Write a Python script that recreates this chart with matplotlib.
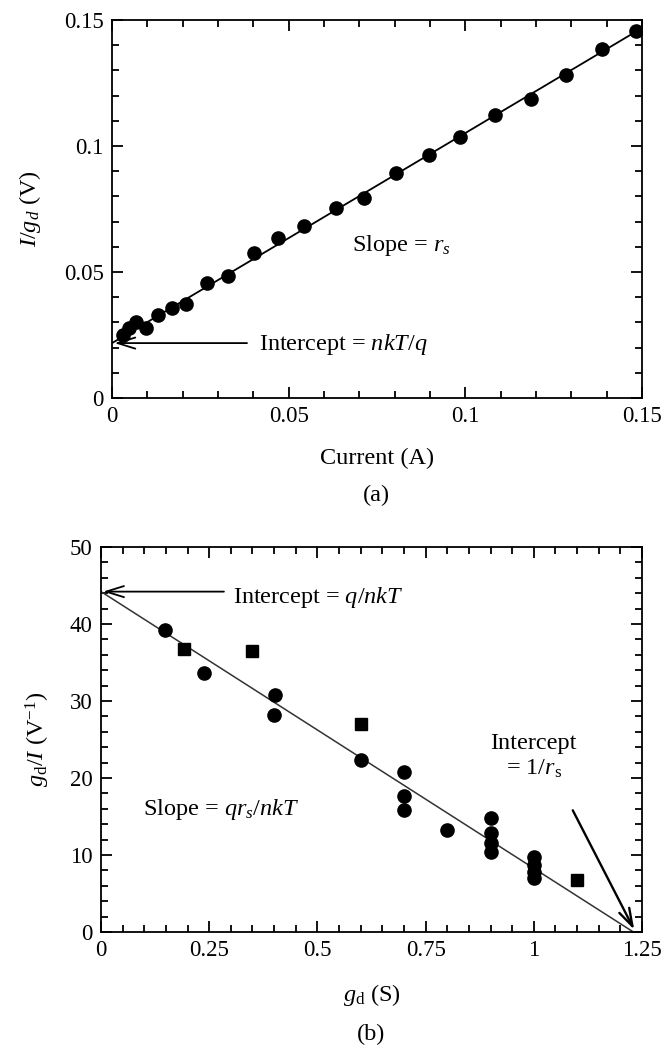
"""
plot.py

Series resistance extraction plots: (a) I/gd vs current, (b) gd/I vs gd.
"""

import matplotlib
matplotlib.use("Agg")
import matplotlib.pyplot as plt
from matplotlib.ticker import MultipleLocator, FormatStrFormatter


# ==========================================================
# Data
# ==========================================================

# (a) I/gd versus current
current_a = [0.0030, 0.0048, 0.0069, 0.0095, 0.0131, 0.0170, 0.0210,
             0.0270, 0.0329, 0.0403, 0.0470, 0.0542, 0.0635, 0.0712,
             0.0805, 0.0898, 0.0985, 0.1083, 0.1186, 0.1286, 0.1386,
             0.1484]
i_over_gd = [0.0250, 0.0277, 0.0303, 0.0277, 0.0329, 0.0356, 0.0373,
             0.0455, 0.0484, 0.0577, 0.0634, 0.0683, 0.0753, 0.0792,
             0.0894, 0.0964, 0.1035, 0.1123, 0.1185, 0.1282, 0.1384,
             0.1456]
fit_a_x = [0.0, 0.149]
fit_a_y = [0.0218, 0.1460]

# (b) gd/I versus gd, round markers
gd_round = [0.148, 0.238, 0.401, 0.399, 0.600, 0.700, 0.700, 0.700,
            0.800, 0.900, 0.900, 0.900, 0.900, 1.000, 1.000, 1.000,
            1.000]
gd_over_i_round = [39.2, 33.6, 30.8, 28.2, 22.3, 20.8, 17.6, 15.8,
                   13.3, 14.8, 12.8, 11.5, 10.4, 9.7, 8.7, 7.8,
                   7.0]

# (b) gd/I versus gd, square markers
gd_square = [0.192, 0.349, 0.600, 1.100]
gd_over_i_square = [36.8, 36.5, 27.0, 6.8]

fit_b_x = [0.0, 1.23]
fit_b_y = [44.2, 0.0]


# ==========================================================
# Style
# ==========================================================

plt.rcParams["font.family"] = ["Liberation Serif", "DejaVu Serif"]
plt.rcParams["mathtext.fontset"] = "custom"
plt.rcParams["mathtext.rm"] = "Liberation Serif"
plt.rcParams["mathtext.it"] = "Liberation Serif:italic"
plt.rcParams["axes.linewidth"] = 1.3

TICK_SIZE = 16.5
LABEL_SIZE = 17.5

ARROW = dict(
    arrowstyle="->,head_length=0.8,head_width=0.25",
    color="black",
    lw=1.3,
    mutation_scale=16,
    shrinkA=0,
    shrinkB=0
)


def style_axes(ax, xmajor, xminor, ymajor, yminor):

    ax.xaxis.set_major_locator(MultipleLocator(xmajor))
    ax.xaxis.set_minor_locator(MultipleLocator(xminor))
    ax.yaxis.set_major_locator(MultipleLocator(ymajor))
    ax.yaxis.set_minor_locator(MultipleLocator(yminor))

    ax.xaxis.set_major_formatter(FormatStrFormatter("%g"))
    ax.yaxis.set_major_formatter(FormatStrFormatter("%g"))

    ax.tick_params(
        which="both",
        direction="in",
        top=True,
        right=True,
        width=1.3,
        labelsize=TICK_SIZE,
        colors="black"
    )
    ax.tick_params(which="major", length=8, pad=6)
    ax.tick_params(which="minor", length=5)


fig = plt.figure(figsize=(6.68, 10.48), dpi=100)


# ==========================================================
# (a)
# ==========================================================

ax1 = fig.add_axes([0.1677, 0.6202, 0.7934, 0.3607])

ax1.plot(fit_a_x, fit_a_y, color="black", lw=1.3, zorder=2)

ax1.plot(
    current_a,
    i_over_gd,
    "o",
    color="black",
    markersize=9.5,
    zorder=3
)

ax1.set_xlim(0, 0.15)
ax1.set_ylim(0, 0.15)

style_axes(ax1, 0.05, 0.01, 0.05, 0.01)

ax1.set_xlabel("Current (A)", fontsize=LABEL_SIZE, labelpad=15)
ax1.set_ylabel(r"$I/g_d$ (V)", fontsize=LABEL_SIZE, labelpad=15)

ax1.text(0.068, 0.0607, r"Slope = $r_s$",
         fontsize=LABEL_SIZE, va="center")

ax1.annotate("", xy=(0.0007, 0.0218), xytext=(0.0382, 0.0218),
             arrowprops=ARROW)
ax1.text(0.0415, 0.0212, r"Intercept = $nkT/q$",
         fontsize=LABEL_SIZE, va="center")

fig.text(0.564, 0.5277, "(a)", fontsize=LABEL_SIZE,
         ha="center", va="center")


# ==========================================================
# (b)
# ==========================================================

ax2 = fig.add_axes([0.1512, 0.1107, 0.8099, 0.3674])

ax2.plot(fit_b_x, fit_b_y, color="#333333", lw=1.1, zorder=2)

ax2.plot(
    gd_round,
    gd_over_i_round,
    "o",
    color="black",
    markersize=9.5,
    zorder=3
)

ax2.plot(
    gd_square,
    gd_over_i_square,
    "s",
    color="black",
    markersize=8.5,
    zorder=3
)

ax2.set_xlim(0, 1.25)
ax2.set_ylim(0, 50)

style_axes(ax2, 0.25, 0.05, 10, 2)

ax2.set_xlabel(r"$g_\mathrm{d}$ (S)", fontsize=LABEL_SIZE, labelpad=15)
ax2.set_ylabel(r"$g_\mathrm{d}/I$ (V$^{-1}$)", fontsize=LABEL_SIZE,
               labelpad=13)

ax2.annotate("", xy=(0.005, 44.2), xytext=(0.284, 44.2),
             arrowprops=ARROW)
ax2.text(0.305, 43.5, r"Intercept = $q/nkT$",
         fontsize=LABEL_SIZE, va="center")

ax2.text(0.098, 15.9, r"Slope = $qr_s/nkT$",
         fontsize=LABEL_SIZE, va="center")

ax2.text(1.0, 22.8, "Intercept\n" + r"= 1/$r_\mathrm{s}$",
         fontsize=LABEL_SIZE, ha="center", va="center",
         linespacing=1.2)

ax2.annotate(
    "",
    xy=(1.232, 0.3),
    xytext=(1.09, 15.8),
    arrowprops=dict(ARROW, lw=1.7)
)

fig.text(0.556, 0.0134, "(b)", fontsize=LABEL_SIZE,
         ha="center", va="center")

plt.savefig("out.png", dpi=100)
plt.close()
